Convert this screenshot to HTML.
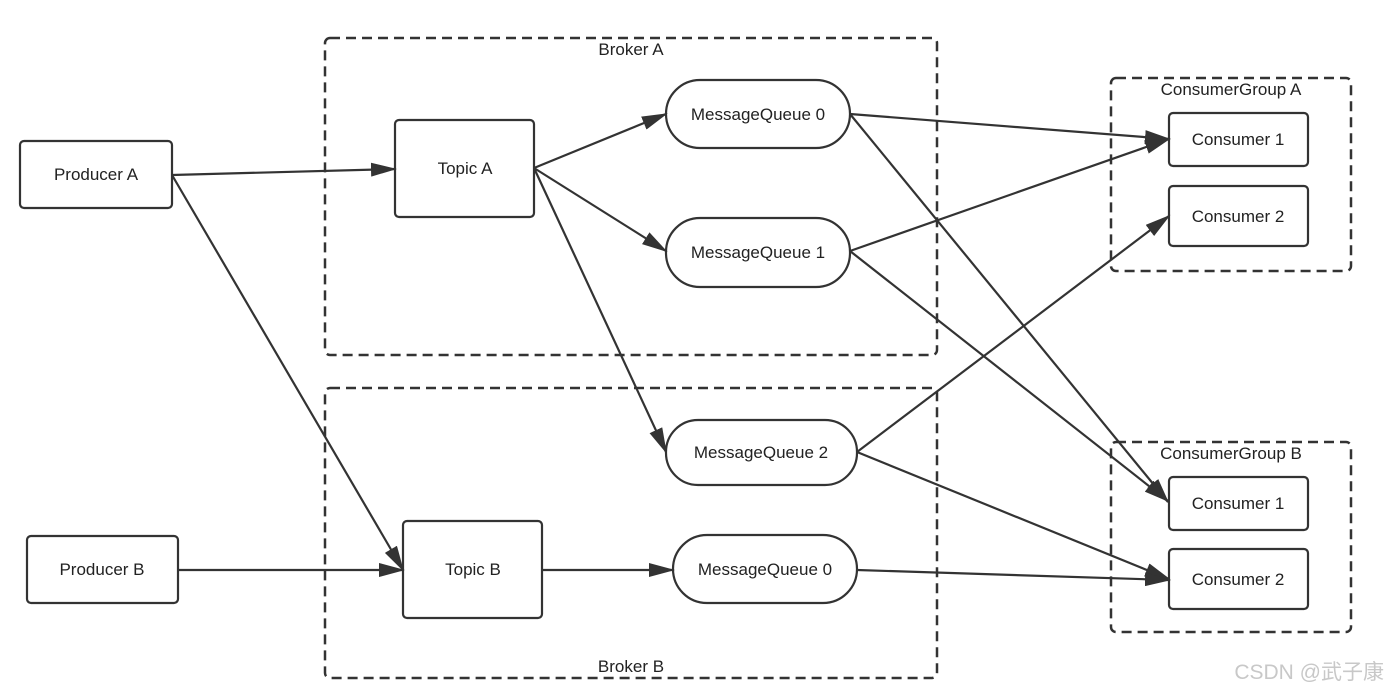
<!DOCTYPE html>
<html><head><meta charset="utf-8"><style>body{margin:0;background:#fff}svg{display:block}</style></head><body>
<svg width="1387" height="695" xmlns="http://www.w3.org/2000/svg" font-family="'Liberation Sans','Noto Sans CJK SC',sans-serif" font-size="17">
<defs><marker id="a" markerWidth="26" markerHeight="14" refX="24" refY="7" orient="auto" markerUnits="userSpaceOnUse"><path d="M0,0 L26,7 L0,14 z" fill="#333"/></marker></defs>
<g fill="none" stroke="#333" stroke-width="2.5" stroke-dasharray="10,6">
<rect x="325" y="38" width="612" height="317" rx="5"/>
<rect x="325" y="388" width="612" height="290" rx="5"/>
<rect x="1111" y="78" width="240" height="193" rx="5"/>
<rect x="1111" y="442" width="240" height="190" rx="5"/>
</g>
<g fill="#fff" stroke="#333" stroke-width="2.2">
<rect x="20" y="141" width="152" height="67" rx="4"/>
<rect x="27" y="536" width="151" height="67" rx="4"/>
<rect x="395" y="120" width="139" height="97" rx="4"/>
<rect x="403" y="521" width="139" height="97" rx="4"/>
<rect x="666" y="80" width="184" height="68" rx="34"/>
<rect x="666" y="218" width="184" height="69" rx="34"/>
<rect x="666" y="420" width="191" height="65" rx="32"/>
<rect x="673" y="535" width="184" height="68" rx="34"/>
<rect x="1169" y="113" width="139" height="53" rx="4"/>
<rect x="1169" y="186" width="139" height="60" rx="4"/>
<rect x="1169" y="477" width="139" height="53" rx="4"/>
<rect x="1169" y="549" width="139" height="60" rx="4"/>
</g>
<g stroke="#333" stroke-width="2.2" marker-end="url(#a)">
<line x1="172" y1="175" x2="395" y2="169"/>
<line x1="172" y1="175" x2="403" y2="570"/>
<line x1="178" y1="570" x2="403" y2="570"/>
<line x1="534" y1="168" x2="666" y2="114"/>
<line x1="534" y1="168" x2="666" y2="251"/>
<line x1="534" y1="168" x2="666" y2="452"/>
<line x1="542" y1="570" x2="673" y2="570"/>
<line x1="850" y1="114" x2="1169" y2="139"/>
<line x1="850" y1="114" x2="1168" y2="502"/>
<line x1="850" y1="251" x2="1169" y2="139"/>
<line x1="850" y1="251" x2="1168" y2="501"/>
<line x1="857" y1="452" x2="1169" y2="216"/>
<line x1="857" y1="452" x2="1169" y2="579"/>
<line x1="857" y1="570" x2="1169" y2="580"/>
</g>
<g fill="#222" text-anchor="middle">
<text x="631" y="55">Broker A</text>
<text x="631" y="672">Broker B</text>
<text x="1231" y="95">ConsumerGroup A</text>
<text x="1231" y="459">ConsumerGroup B</text>
<text x="96" y="180">Producer A</text>
<text x="102" y="575">Producer B</text>
<text x="465" y="174">Topic A</text>
<text x="473" y="575">Topic B</text>
<text x="758" y="120">MessageQueue 0</text>
<text x="758" y="258">MessageQueue 1</text>
<text x="761" y="458">MessageQueue 2</text>
<text x="765" y="575">MessageQueue 0</text>
<text x="1238" y="145">Consumer 1</text>
<text x="1238" y="222">Consumer 2</text>
<text x="1238" y="509">Consumer 1</text>
<text x="1238" y="585">Consumer 2</text>
</g>
<text x="1384" y="679" text-anchor="end" fill="#c8c8c8" font-size="21">CSDN @武子康</text>
</svg>
</body></html>
